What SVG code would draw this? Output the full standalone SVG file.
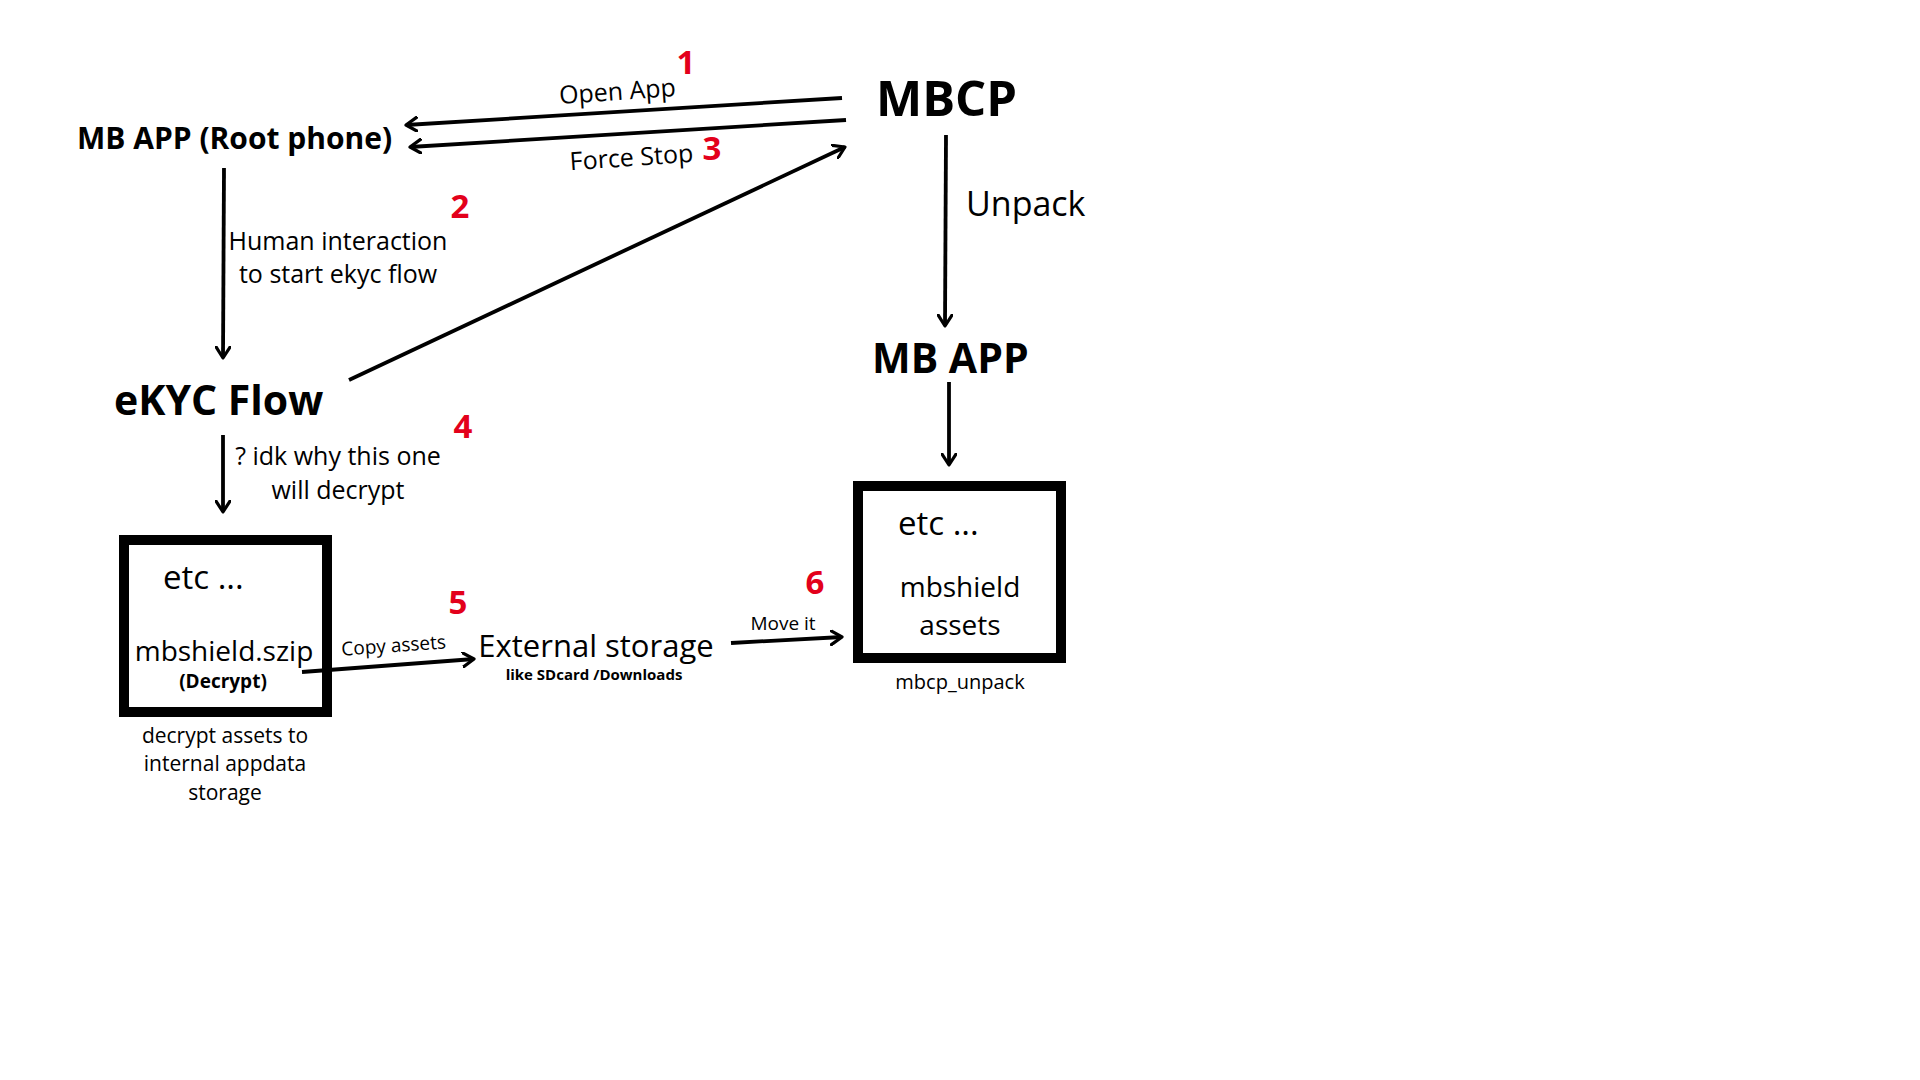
<svg xmlns="http://www.w3.org/2000/svg" width="1920" height="1080" viewBox="0 0 1920 1080">
<defs>
<marker id="ah" viewBox="0 0 14 16" refX="12" refY="8" markerWidth="14" markerHeight="16" markerUnits="userSpaceOnUse" orient="auto">
<path d="M1,1 L12,8 L1,15" fill="none" stroke="#000" stroke-width="3.2" stroke-linecap="round" stroke-linejoin="round"/>
</marker>
<style>
text{font-family:"Open Sans","Noto Sans","DejaVu Sans",sans-serif;fill:#000}
.b{font-weight:700}
.num{font-weight:700;fill:#e3001b;font-size:33px}
.lbl{font-size:25px}
.c{text-anchor:middle}
.edge{stroke:#000;stroke-width:3.8;fill:none;marker-end:url(#ah)}
.box{fill:none;stroke:#000;stroke-width:10}
</style>
</defs>
<rect width="1920" height="1080" fill="#fff"/>
<g id="connectors">
<line class="edge" x1="842" y1="98" x2="406" y2="125"/>
<line class="edge" x1="846" y1="120" x2="410" y2="147"/>
<line class="edge" x1="349" y1="380" x2="845" y2="147"/>
<line class="edge" x1="224" y1="168" x2="223" y2="358"/>
<line class="edge" x1="223" y1="435" x2="223" y2="512"/>
<line class="edge" x1="302" y1="672" x2="474" y2="659"/>
<line class="edge" x1="731" y1="643" x2="842" y2="637"/>
<line class="edge" x1="946" y1="135" x2="945" y2="326"/>
<line class="edge" x1="949" y1="382" x2="949" y2="465"/>
<text class="lbl" transform="translate(618,100) rotate(-4)" text-anchor="middle">Open App</text>
<text class="lbl" transform="translate(632,166) rotate(-4)" text-anchor="middle">Force Stop</text>
<text class="num" x="686" y="74" text-anchor="middle">1</text>
<text class="num" x="712" y="160" text-anchor="middle">3</text>
<text class="num" x="460" y="218" text-anchor="middle">2</text>
<text class="lbl c" x="338" y="250">Human interaction</text>
<text class="lbl c" x="338" y="283">to start ekyc flow</text>
<text class="num" x="463" y="438" text-anchor="middle">4</text>
<text class="lbl c" x="338" y="465">? idk why this one</text>
<text class="lbl c" x="338" y="499">will decrypt</text>
<text class="num" x="458" y="614" text-anchor="middle">5</text>
<text transform="translate(394,652) rotate(-4)" text-anchor="middle" font-size="19">Copy assets</text>
<text class="num" x="815" y="594" text-anchor="middle">6</text>
<text x="783" y="630" text-anchor="middle" font-size="19">Move it</text>
<text x="966" y="216" font-size="34">Unpack</text>
</g>
<g id="node-mbapp-root">
<text class="b" x="77" y="149" font-size="30">MB APP (Root phone)</text>
</g>
<g id="node-mbcp">
<text class="b" x="876" y="116" font-size="49">MBCP</text>
</g>
<g id="node-ekyc">
<text class="b" x="114" y="415" font-size="41">eKYC Flow</text>
</g>
<g id="node-mbapp">
<text class="b" x="872" y="373" font-size="41">MB APP</text>
</g>
<g id="node-box-left">
<rect class="box" x="124" y="540" width="203" height="172"/>
<text x="163" y="589" font-size="33">etc ...</text>
<text x="224" y="661" text-anchor="middle" font-size="28">mbshield.szip</text>
<text class="b" x="223" y="688" text-anchor="middle" font-size="19">(Decrypt)</text>
<text x="225" y="743" text-anchor="middle" font-size="21">decrypt assets to</text>
<text x="225" y="771" text-anchor="middle" font-size="21">internal appdata</text>
<text x="225" y="800" text-anchor="middle" font-size="21">storage</text>
</g>
<g id="node-external">
<text x="596" y="657" text-anchor="middle" font-size="31">External storage</text>
<text class="b" x="594" y="680" text-anchor="middle" font-size="15">like SDcard /Downloads</text>
</g>
<g id="node-box-right">
<rect class="box" x="858" y="486" width="203" height="172"/>
<text x="898" y="535" font-size="33">etc ...</text>
<text x="960" y="597" text-anchor="middle" font-size="28">mbshield</text>
<text x="960" y="635" text-anchor="middle" font-size="28">assets</text>
<text x="960" y="689" text-anchor="middle" font-size="20">mbcp_unpack</text>
</g>
</svg>
